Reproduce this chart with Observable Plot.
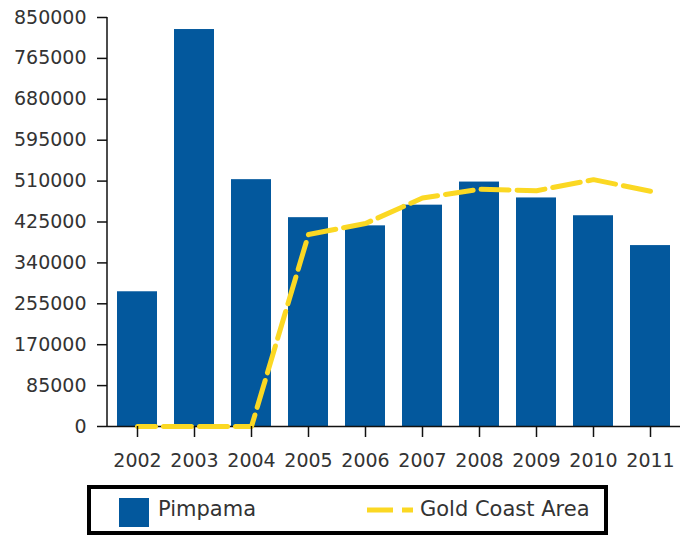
<!DOCTYPE html>
<html>
<head>
<meta charset="utf-8">
<script src="https://cdn.jsdelivr.net/npm/d3@7"></script>
<script src="https://cdn.jsdelivr.net/npm/@observablehq/plot@0.6"></script>
<style>
  html, body { margin: 0; padding: 0; background: #fff; }
  body { font-family: "DejaVu Sans", sans-serif; width: 680px; height: 538px; overflow: hidden; }
  #legend {
    position: absolute; left: 87px; top: 485px; width: 513px; height: 42px;
    border: 4px solid #000; background: #fff; box-sizing: content-box;
  }
  #legend .sw { position: absolute; left: 28px; top: 9px; width: 30px; height: 29px; background: #03589d; }
  #legend .t1 { position: absolute; left: 67px; top: 8px; font-size: 21px; color: #333; line-height: 24px; }
  #legend svg { position: absolute; left: 276px; top: 16px; }
  #legend .t2 { position: absolute; left: 329px; top: 8px; font-size: 21px; color: #333; line-height: 24px; }
</style>
</head>
<body>
<div id="chart"></div>
<div id="legend">
  <div class="sw"></div><div class="t1">Pimpama</div>
  <svg width="50" height="10"><line x1="0" y1="5" x2="46" y2="5" stroke="#fbd823" stroke-width="5" stroke-dasharray="26,9"></line></svg>
  <div class="t2">Gold Coast Area</div>
</div>
<script>
const years = ["2002","2003","2004","2005","2006","2007","2008","2009","2010","2011"];
const pimpama = [280000, 825000, 513000, 434000, 417000, 460000, 508000, 475000, 438000, 376000];
const goldCoast = [0, 0, 0, 399000, 422000, 475000, 493000, 490000, 513000, 489000];
const yTicks = [0, 85000, 170000, 255000, 340000, 425000, 510000, 595000, 680000, 765000, 850000];

const barData = years.map((y, i) => ({year: y, value: pimpama[i]}));
const lineData = years.map((y, i) => ({year: y, value: goldCoast[i]}));

const plot = Plot.plot({
  width: 680,
  height: 478,
  marginLeft: 107,
  marginRight: 0,
  marginTop: 17,
  marginBottom: 52,
  style: {fontFamily: "DejaVu Sans, sans-serif", fontSize: "19px", color: "#333", background: "#fff"},
  x: {domain: years, paddingInner: 0.3, paddingOuter: 0.15, label: null},
  y: {domain: [0, 850000], label: null},
  marks: [
    Plot.barY(barData, {x: "year", y: "value", fill: "#03589d"}),
    Plot.ruleY([0], {stroke: "#111", strokeWidth: 1.5}),
    Plot.line(lineData, {x: "year", y: "value", stroke: "#fbd823", strokeWidth: 5,
      strokeDasharray: "28,8", strokeDashoffset: 10}),
    Plot.axisY({ticks: yTicks, tickFormat: d => String(d), tickSize: 10, tickPadding: 11,
      stroke: "#111", strokeWidth: 1.5, fill: "#333", label: null}),
    Plot.axisX({tickSize: 11, tickPadding: 16, stroke: "#111", strokeWidth: 1.5, fill: "#333", label: null}),
    (index, scales, values, dims) => {
      const y0 = scales.y(0), y1 = scales.y(850000);
      const g = d3.create("svg:line")
        .attr("x1", dims.marginLeft).attr("x2", dims.marginLeft)
        .attr("y1", y1).attr("y2", y0)
        .attr("stroke", "#111").attr("stroke-width", 1.5);
      return g.node();
    }
  ]
});
document.getElementById("chart").appendChild(plot);
</script>
</body>
</html>
